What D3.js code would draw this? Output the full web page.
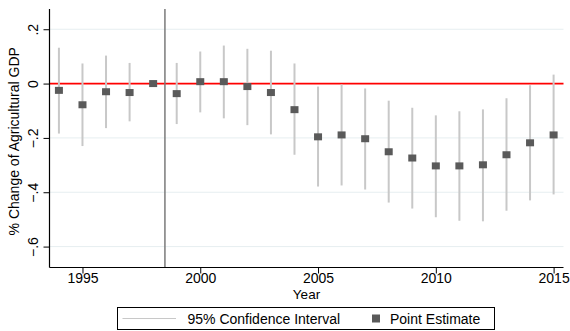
<!DOCTYPE html>
<html>
<head>
<meta charset="utf-8">
<script src="https://cdn.jsdelivr.net/npm/d3@7"></script>
<style>
  html, body { margin: 0; padding: 0; background: #fff; }
  svg { display: block; font-family: "Liberation Sans", Arial, Helvetica, sans-serif; }
</style>
</head>
<body>
<svg id="chart" width="570" height="331"></svg>
<script>
const years = [1994,1995,1996,1997,1998,1999,2000,2001,2002,2003,2004,2005,2006,2007,2008,2009,2010,2011,2012,2013,2014,2015];
const estimate = [-0.025,-0.078,-0.030,-0.033,0,-0.037,0.007,0.007,-0.011,-0.033,-0.096,-0.196,-0.189,-0.203,-0.251,-0.274,-0.303,-0.303,-0.299,-0.262,-0.218,-0.189];
const ciUpper = [0.132,0.074,0.103,0.076,null,0.076,0.118,0.140,0.128,0.121,0.074,-0.011,-0.003,-0.018,-0.063,-0.089,-0.117,-0.102,-0.095,-0.054,-0.006,0.033];
const ciLower = [-0.184,-0.230,-0.164,-0.139,null,-0.149,-0.106,-0.128,-0.153,-0.187,-0.262,-0.379,-0.375,-0.390,-0.438,-0.460,-0.492,-0.505,-0.507,-0.468,-0.430,-0.408];
const xTicks = [1995,2000,2005,2010,2015];
const yTicks = [0.2,0,-0.2,-0.4,-0.6];
const yTickLabels = [".2","0","\u2212.2","\u2212.4","\u2212.6"];
const gridTicks = [0.2,-0.2,-0.4,-0.6];
const breakYear = 1998.5;
const legendLabels = ["95% Confidence Interval","Point Estimate"];

const svg = d3.select("#chart");
const L = 49.5, R = 563.5, T = 9, B = 267.5;
const FS = 14;
const x = d3.scaleLinear().domain([1993.6, 2015.42]).range([L, R]);
const y = d3.scaleLinear().domain([-0.677, 0.2745]).range([B, T]);

// gridlines
svg.append("g").selectAll("line").data(gridTicks).join("line")
  .attr("x1", L).attr("x2", R)
  .attr("y1", d => y(d)).attr("y2", d => y(d))
  .attr("stroke", "#e6eef0").attr("stroke-width", 1);

// zero line
svg.append("line").attr("x1", L).attr("x2", R)
  .attr("y1", y(0)).attr("y2", y(0))
  .attr("stroke", "#ff0000").attr("stroke-width", 1.6);

// vertical break line
svg.append("line").attr("x1", x(breakYear)).attr("x2", x(breakYear))
  .attr("y1", T).attr("y2", B)
  .attr("stroke", "#7a7a7a").attr("stroke-width", 1.5);

const data = years.map((yr, i) => ({yr, est: estimate[i], hi: ciUpper[i], lo: ciLower[i]}));

// CIs
svg.append("g").selectAll("line").data(data.filter(d => d.hi !== null)).join("line")
  .attr("x1", d => x(d.yr)).attr("x2", d => x(d.yr))
  .attr("y1", d => y(d.hi)).attr("y2", d => y(d.lo))
  .attr("stroke", "#c8c8c8").attr("stroke-width", 2);

// points
const ms = 8;
svg.append("g").selectAll("rect").data(data).join("rect")
  .attr("x", d => x(d.yr) - ms/2).attr("y", d => y(d.est) - ms/2 + 0.5)
  .attr("width", ms).attr("height", ms - 1)
  .attr("fill", "#5a5a5a");

// Y axis
const yAxis = svg.append("g").attr("transform", `translate(${L},0)`)
  .call(d3.axisLeft(y).tickValues(yTicks).tickSize(6).tickFormat((d, i) => yTickLabels[i]));
yAxis.select(".domain").attr("stroke", "#000").attr("stroke-width", 1.2).attr("d", `M0,${T}V${B}`);
yAxis.selectAll(".tick line").attr("stroke", "#000");
yAxis.selectAll(".tick text")
  .attr("transform", "rotate(-90)")
  .attr("x", 0).attr("y", -12).attr("dy", 0)
  .attr("text-anchor", "middle")
  .attr("font-size", FS).attr("fill", "#000")
  .attr("font-family", "Liberation Sans, Arial, sans-serif");

// X axis
const xAxis = svg.append("g").attr("transform", `translate(0,${B})`)
  .call(d3.axisBottom(x).tickValues(xTicks).tickSize(6).tickFormat(d3.format("d")));
xAxis.select(".domain").attr("stroke", "#000").attr("stroke-width", 1.2).attr("d", `M${L},0H${R}`);
xAxis.selectAll(".tick line").attr("stroke", "#000");
xAxis.selectAll(".tick text")
  .attr("y", 15.5).attr("dy", 0)
  .attr("font-size", FS).attr("fill", "#000")
  .attr("font-family", "Liberation Sans, Arial, sans-serif");

// axis titles
svg.append("text").attr("x", (L + R) / 2).attr("y", 298.5)
  .attr("text-anchor", "middle").attr("font-size", 13.5).text("Year");
svg.append("text")
  .attr("transform", `translate(19,${(T + B) / 2 + 3}) rotate(-90)`)
  .attr("text-anchor", "middle").attr("font-size", FS)
  .text("% Change of Agricultural GDP");

// legend
const lg = svg.append("g");
lg.append("rect").attr("x", 117.5).attr("y", 307.5).attr("width", 377).attr("height", 22)
  .attr("fill", "#fff").attr("stroke", "#000").attr("stroke-width", 1);
lg.append("line").attr("x1", 122.5).attr("x2", 176).attr("y1", 318.5).attr("y2", 318.5)
  .attr("stroke", "#c8c8c8").attr("stroke-width", 1.2);
lg.append("text").attr("x", 187.5).attr("y", 323.5).attr("font-size", FS).text(legendLabels[0]);
lg.append("rect").attr("x", 372).attr("y", 314.5).attr("width", 8).attr("height", 8).attr("fill", "#5a5a5a");
lg.append("text").attr("x", 390).attr("y", 323.5).attr("font-size", FS).text(legendLabels[1]);
</script>
</body>
</html>
